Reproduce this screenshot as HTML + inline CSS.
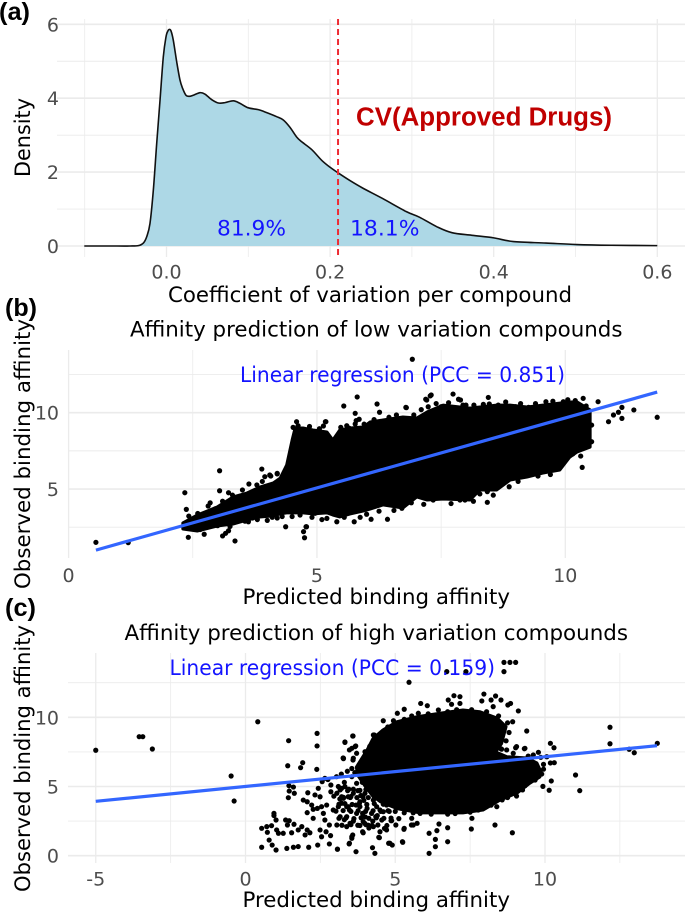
<!DOCTYPE html>
<html lang="en">
<head>
<meta charset="utf-8">
<title>Coefficient of variation and affinity prediction</title>
<style>
html,body{margin:0;padding:0;background:#fff;width:685px;height:913px;overflow:hidden}
svg{display:block}
text{font-family:"DejaVu Sans","Liberation Sans",sans-serif}
.panel-tag{font-family:"Liberation Sans",sans-serif;font-weight:bold;font-size:25px;fill:#000}
.axis-title{font-size:21.5px;fill:#000}
.tick{font-size:19px;fill:#4d4d4d}
.note{font-size:21.5px;fill:#1414ff}
</style>
</head>
<body>
<svg id="figure" xmlns="http://www.w3.org/2000/svg" width="685" height="913" viewBox="0 0 685 913">
  <g id="panel-a"></g>
  <g id="panel-b"></g>
  <g id="panel-c"></g>
  <g>
    <text class="panel-tag" x="-1" y="20" textLength="31" lengthAdjust="spacingAndGlyphs">(a)</text>
    <text class="panel-tag" x="5" y="316" textLength="32" lengthAdjust="spacingAndGlyphs">(b)</text>
    <text class="panel-tag" x="5" y="616" textLength="31" lengthAdjust="spacingAndGlyphs">(c)</text>

    <text class="axis-title" transform="translate(30 177) rotate(-90)" textLength="79" lengthAdjust="spacingAndGlyphs">Density</text>
    <text class="axis-title" x="168" y="302" textLength="404" lengthAdjust="spacingAndGlyphs">Coefficient of variation per compound</text>
    <text x="356" y="125.5" textLength="256" lengthAdjust="spacingAndGlyphs" style="font-family:'Liberation Sans',sans-serif;font-weight:bold;font-size:25.5px;fill:#c00000">CV(Approved Drugs)</text>
    <text class="note" x="217" y="235.5" textLength="69" lengthAdjust="spacingAndGlyphs">81.9%</text>
    <text class="note" x="350" y="235.5" textLength="69.5" lengthAdjust="spacingAndGlyphs">18.1%</text>

    <text class="axis-title" x="130" y="336.5" textLength="492.5" lengthAdjust="spacingAndGlyphs">Affinity prediction of low variation compounds</text>
    <text class="note" x="240" y="382" textLength="325" lengthAdjust="spacingAndGlyphs">Linear regression (PCC = 0.851)</text>
    <text class="axis-title" x="242.5" y="604" textLength="267.5" lengthAdjust="spacingAndGlyphs">Predicted binding affinity</text>
    <text class="axis-title" transform="translate(30 589) rotate(-90)" textLength="270" lengthAdjust="spacingAndGlyphs">Observed binding affinity</text>

    <text class="axis-title" x="124.5" y="640" textLength="503.5" lengthAdjust="spacingAndGlyphs">Affinity prediction of high variation compounds</text>
    <text class="note" x="169.5" y="675" textLength="325.5" lengthAdjust="spacingAndGlyphs">Linear regression (PCC = 0.159)</text>
    <text class="axis-title" x="242.5" y="907" textLength="267.5" lengthAdjust="spacingAndGlyphs">Predicted binding affinity</text>
    <text class="axis-title" transform="translate(30 892) rotate(-90)" textLength="267" lengthAdjust="spacingAndGlyphs">Observed binding affinity</text>
  </g>
</svg>
<script>
const densityX = [-0.1005,-0.06,-0.0446,-0.0345,-0.0283,-0.0242,-0.0202,-0.0161,-0.012,-0.0079,-0.0039,-0.0006,0.0015,0.0034,0.0055,0.0083,0.0125,0.0165,0.0198,0.0238,0.0279,0.0328,0.041,0.0471,0.0553,0.0634,0.0715,0.0817,0.0899,0.1,0.1122,0.1225,0.1347,0.1428,0.151,0.1591,0.1653,0.1775,0.1897,0.2,0.2097,0.2243,0.2397,0.2638,0.2932,0.3092,0.3306,0.349,0.3733,0.4,0.424,0.464,0.5015,0.544,0.6];
const densityY = [0,0,0,0.01,0.08,0.25,0.61,1.51,2.77,3.95,5.12,5.66,5.81,5.86,5.82,5.57,4.98,4.49,4.26,4.08,4.05,4.08,4.15,4.11,3.96,3.87,3.88,3.93,3.86,3.74,3.69,3.61,3.5,3.41,3.21,2.95,2.82,2.61,2.32,2.13,1.98,1.77,1.57,1.29,0.93,0.78,0.52,0.36,0.29,0.22,0.12,0.08,0.04,0.02,0.01];
const densityMajorY = [0,2,4,6];
const densityMinorY = [1,3,5];
const densityMajorX = [0,0.2,0.4,0.6];
const densityMinorX = [-0.1,0.1,0.3,0.5];
const densityTickLabelsX = ["0.0","0.2","0.4","0.6"];
const densityTickLabelsY = ["0","2","4","6"];
const approvedDrugsCV = 0.2097;

const lowLineX = [0.55,11.85];
const lowLineY = [1.0,11.35];
const lowBlobX = [2.30,2.59,2.99,3.31,3.59,3.85,4.12,4.26,4.39,4.50,4.56,4.72,4.92,5.20,5.32,5.46,5.67,5.93,6.07,6.33,6.73,7.01,7.22,7.54,8.08,8.28,8.62,8.89,9.23,9.55,9.89,10.09,10.24,10.5];
const lowBlobUpper = [2.78,3.30,3.82,4.48,4.74,5.13,5.40,5.72,6.57,8.21,9.0,9.0,8.87,8.74,8.21,8.87,9.0,9.06,9.39,9.52,9.72,9.65,10.05,10.5,10.3,10.37,10.5,10.5,10.37,10.5,10.63,10.7,10.7,10.18];
const lowBlobLower = [2.38,2.25,2.58,2.71,2.97,3.17,3.24,3.37,3.44,3.44,3.44,3.44,3.37,3.44,3.30,3.17,3.37,3.56,3.69,3.96,3.76,4.48,4.28,4.35,4.28,4.94,4.94,5.59,5.79,6.05,6.25,7.09,7.43,7.75];
const lowPoints = [
[0.55,1.51],[1.20,1.49],[2.34,4.76],[2.37,3.67],[2.42,3.23],[2.41,1.84],[3.04,6.2],[3.04,4.89],[3.22,4.76],[2.81,3.89],[3.35,1.6],[3.10,1.93],[3.22,2.27],[3.16,2.1],[2.73,2.04],[3.89,6.31],[4.07,5.85],[3.95,5.81],[4.2,5.99],[3.63,5.33],[3.79,5.27],[3.5,4.94],[4.37,2.53],[3.62,2.86],
[6.92,13.5],[5.81,11.03],[5.54,10.44],[5.77,9.96],[5.85,9.57],[5.77,9.26],[6.21,10.57],[6.26,10.03],[6.79,10.35],[7.3,11.16],[7.21,10.83],[7.74,11.22],[7.89,10.83],[7.94,10.5],[7.24,10.39],[4.59,9.41],[4.52,9.04],[5.18,9.41],[5.48,9.04],[4.79,2.53],[4.75,1.81],[4.78,2.53],[4.73,2.21],[6.42,3.02],[5.75,2.86],[5.87,3.15],[6.09,3.02],[5.4,2.86],[5.2,3.08],[4.66,3.3],[4.96,3.41],[4.2,6.03],[4.05,5.92],[6.71,3.74],[7.98,4.28],[7.34,4.28],[7.04,4.61],
[8.45,11.0],[11.85,9.7],[11.38,10.18],[11.14,10.35],[11.14,9.63],[10.87,9.41],[10.66,10.72],[10.36,10.94],[10.2,10.79],[10.42,10.44],[10.53,9.19],[10.33,9.52],[10.97,9.85],[11.07,10.03],[10.42,8.39],[10.53,8.1],[10.3,7.67],[10.31,7.16],[10.34,6.42],[9.93,7.12],[9.83,7.45],[9.56,6.14],[9.36,6.2],[9.26,5.99],[9.05,5.74],[8.87,5.15],[8.63,5.27],[8.43,4.83],[8.28,4.68],[8.43,4.13],[8.02,4.39],[7.88,4.28],[9.83,8.0],[10.03,8.43],[10.23,8.6],[10.16,8.0],
[7.28,11.1],[7.85,10.88],[7.19,10.88],[6.8,10.33],[8.16,10.5],[8.47,10.57],[7.5,10.39],[9.61,10.72],[9.96,10.72],[9.0,10.39],[8.65,10.5],[9.26,10.35],[5.79,9.48],[5.17,9.41],[5.13,9.13],[5.65,8.98],
[2.6,3.4],[2.9,3.2],[3.45,3.9],[3.7,4.4],[3.0,2.6],[2.5,2.7],[3.55,2.9],[3.8,3.0],[4.0,2.95],[4.2,3.1],[2.85,4.1],[3.3,4.6],[3.9,5.5],[2.32,2.5],[2.65,2.35],
[3.1,4.2],[3.42,4.35],[2.95,3.7],[3.25,2.55],[3.7,3.1],[4.1,3.15],[4.3,3.2],[4.5,3.2],[4.9,3.15],[5.1,3.0],[5.55,3.15],[6.0,3.35],[6.25,3.55],[6.55,3.6],[6.9,4.1],[7.15,4.0],[7.7,4.05],[8.15,4.2],[8.55,4.6],[8.75,5.4],[9.05,5.5],[9.45,5.85],[9.7,5.95],[10.0,6.9],[10.15,7.3],
[4.62,9.15],[4.85,9.1],[5.05,8.95],[5.6,9.15],[5.95,9.25],[6.15,9.55],[6.45,9.7],[6.6,9.85],[6.95,9.85],[7.1,10.2],[7.4,10.6],[7.65,10.65],[8.0,10.5],[8.35,10.55],[8.8,10.7],[9.1,10.6],[9.4,10.6],[9.75,10.75],[10.05,10.85]
];

const highLineX = [-5.0,13.74];
const highLineY = [3.93,7.95];
const highBlobX = [3.7,4.06,4.26,4.59,5.06,5.73,6.49,7.26,7.83,8.4,8.7,8.55,8.35,8.73,9.4,9.73,9.87,9.83,9.5,9.07,8.5,7.93,7.26,6.49,5.83,5.06,4.5,4.25,4.0,3.75];
const highBlobY = [6.4,7.64,8.48,9.09,9.68,10.04,10.29,10.53,10.4,9.95,9.32,8.1,7.5,7.15,7.06,6.7,6.05,5.69,5.25,4.53,4.02,3.3,3.09,3.09,3.09,3.4,3.9,4.3,5.0,5.8];
const highPoints = [
[-5.0,7.62],[-3.55,8.6],[-3.43,8.6],[-3.11,7.71],[0.41,9.68],[-0.48,5.76],[-0.38,3.95],[1.44,8.31],[2.39,8.84],[2.39,7.93],[3.32,8.22],[3.27,7.01],[1.41,6.5],[1.91,6.72],[1.84,6.36],[2.38,6.24],[1.45,5.06],[1.6,4.96],[1.46,4.67],[1.63,4.51],[1.43,4.19],[2.08,4.55],[1.93,4.02],[2.06,3.9],[2.21,3.66],[2.06,3.11],[2.26,3.35],[0.95,3.06],[0.95,2.9],[1.02,2.58],[1.34,2.58],[1.46,2.53],[1.4,2.22],[1.62,2.27],[0.54,1.98],[0.71,2.1],[0.87,2.17],[0.73,1.69],[1.04,1.86],[1.1,1.62],[1.26,1.62],[1.54,1.66],[1.76,1.86],[1.88,2.1],[1.99,1.5],[2.15,1.66],[2.06,1.86],[2.49,1.86],[2.54,1.37],[2.69,1.73],[2.84,1.45],[0.79,1.13],[0.89,0.77],[1.02,0.41],[0.54,0.61],[1.38,0.53],[1.6,0.61],[1.76,0.66],[2.11,0.61],[2.41,0.77],[2.8,0.85],[3.07,0.46],[3.47,0.9],
[2.43,4.87],[2.56,5.35],[2.65,5.59],[2.85,5.11],[2.85,4.62],[3.04,5.71],[2.32,4.39],[2.49,4.26],[2.71,3.66],[2.54,3.54],[2.4,3.42],[2.93,3.3],[3.1,3.54],[3.16,2.82],[3.38,2.82],[2.65,2.58],[2.26,2.7],[2.8,2.22],[3.05,2.22],[3.38,2.1],[3.05,4.51],[3.21,4.87],[3.27,4.15],[3.21,3.79],[3.43,3.54],[2.6,3.06],
[3.59,8.65],[3.68,7.93],[3.47,7.64],[3.59,6.91],[3.26,7.06],[3.79,6.55],[4.3,8.72],[4.12,2.0],[4.64,1.97],[4.86,2.53],[4.35,2.82],[3.91,3.06],[3.47,3.3],[3.69,3.66],[4.06,3.42],[4.49,3.3],[4.71,3.66],[3.98,2.34],[4.27,2.1],[4.49,1.73],[3.91,1.73],[3.55,1.37],[4.45,1.33],[4.78,0.9],[4.9,0.77],[5.25,0.97],[5.29,1.91],[5.54,2.22],[5.73,2.34],[6.13,1.62],[6.13,0.17],[6.34,0.65],[6.34,1.18],[6.39,1.81],[6.46,2.29],[6.75,2.02],[6.75,1.01],[7.54,1.93],[7.56,2.7],[8.33,2.22],[8.91,1.66],[4.32,0.17],[4.24,0.58],[3.69,0.29],[3.07,0.48],
[5.46,12.53],[6.72,13.3],[7.36,13.3],[8.63,13.3],[8.63,13.97],[8.83,13.97],[9.02,13.97],[6.96,11.56],[7.16,11.49],[6.77,11.25],[6.88,10.94],[7.16,11.0],[7.96,11.68],[8.35,11.54],[8.53,11.25],[8.2,11.25],[7.89,11.18],[8.85,11.0],[8.27,10.77],[8.76,10.89],[9.11,10.46],[8.92,9.68],[9.39,9.01],[9.02,7.8],[9.33,7.76],[8.72,7.64],[8.5,7.76],
[5.85,11.0],[6.07,10.84],[5.3,10.58],[5.07,10.29],[6.44,10.53],[5.77,10.29],[4.6,9.75],[4.94,9.75],[4.27,8.72],[3.58,8.65],[3.32,8.19],[3.66,7.88],[3.71,7.4],[3.55,7.76],[3.27,7.04],[3.6,7.04],[3.99,7.51],[3.77,6.43],
[7.77,3.3],[8.39,3.54],[5.55,2.7],[5.6,2.22],[5.3,1.98],[4.47,1.3],[5.24,1.01],[4.82,0.9],[3.46,0.85],[3.55,1.26],[3.58,1.5],[3.93,1.66],[4.71,1.86],[4.88,2.53],[5.83,3.06],[3.93,2.46],[3.49,2.34],[3.71,3.06],[3.38,3.54],[3.82,3.54],[4.21,3.06],[4.55,2.58],[4.6,3.18],[3.6,4.51],[3.32,4.99],[3.43,4.26],[3.21,4.26],[3.99,4.51],[4.27,4.02],[3.71,5.23],[3.55,5.71],[4.05,5.35],[3.82,3.9],[4.38,3.54],
[13.75,8.12],[12.17,9.28],[12.17,8.09],[12.81,7.69],[12.98,7.44],[10.18,8.12],[10.3,7.8],[10.18,6.7],[10.31,6.72],[11.02,5.83],[11.16,4.7],[10.21,5.4],[10.14,4.73],[9.93,5.01],[9.31,7.73],[9.05,7.88],[8.94,7.4],[9.78,7.47],[9.61,7.28],[9.44,7.2],[10.06,7.15],[9.86,7.11],[9.89,5.9],[9.72,6.07],[9.67,5.47],[9.5,5.35],[9.33,5.05],[9.05,4.31],[8.57,4.03],
[3.3,5.3],[3.45,4.8],[3.1,5.0],[2.95,4.3],[3.15,4.1],[3.5,4.2],[3.75,4.7],[3.95,4.0],[4.1,4.8],[3.85,4.35],[3.4,6.1],[3.65,6.0],[3.55,6.3],[3.2,5.9],[2.75,5.5],[4.0,2.8],[4.25,2.5],[4.4,2.9],[3.6,2.5],[3.3,2.6],[3.75,2.2],[4.1,2.2],
[3.16,4.75],[3.41,4.7],[3.6,4.8],[3.82,4.72],[4.02,4.78],[4.2,4.7],[3.27,4.22],[3.52,4.28],[3.72,4.2],[3.92,4.26],[4.1,4.2],[4.3,4.25],[3.12,3.72],[3.32,3.76],[3.56,3.7],[3.8,3.76],[4.05,3.7],[4.3,3.76],[4.6,3.72],[3.02,3.22],[3.26,3.26],[3.52,3.2],[3.76,3.25],[4.01,3.2],[4.26,3.25],[4.52,3.2],[4.76,3.25],[5.0,3.2],[3.12,2.7],[3.36,2.74],[3.62,2.68],[3.86,2.74],[4.12,2.7],[4.37,2.74],[4.62,2.7],[4.86,2.72],[5.12,2.68],[3.22,2.2],[3.52,2.24],[3.82,2.18],[4.02,2.24],[4.22,2.18],[4.42,2.22],[4.72,2.18],[5.02,2.22],
[3.9,5.3],[4.1,5.6],[3.85,6.1],[3.95,6.8],[4.15,7.9],[4.4,8.5],[4.75,9.3],[5.3,9.85],[5.55,10.1],[6.1,10.25],[6.75,10.4],[7.05,10.55],[7.55,10.55],[8.05,10.4],[8.45,10.1],[8.75,9.6],[8.8,8.9],[8.7,8.3],[8.55,7.7],[4.8,3.2],[5.3,3.1],[5.6,3.1],[6.2,3.0],[6.75,3.0],[7.0,3.05],[7.5,3.15],[8.2,3.65],[8.75,4.2],[9.25,4.75],[9.65,5.55],[9.95,6.25],[9.95,6.6]
];

const lowMajorX = [0,5,10];
const lowMinorX = [2.5,7.5];
const lowMajorY = [5,10];
const lowMinorY = [2.5,7.5,12.5];
const highMajorX = [-5,0,5,10];
const highMinorX = [-2.5,2.5,7.5,12.5];
const highMajorY = [0,5,10];
const highMinorY = [2.5,7.5,12.5];

const SVG_NS = "http://www.w3.org/2000/svg";
function make(tag, parent, attrs) {
  const node = document.createElementNS(SVG_NS, tag);
  for (const key in attrs) node.setAttribute(key, attrs[key]);
  parent.appendChild(node);
  return node;
}
const axisA = { x: v => 166.5 + 818 * v, y: v => 246 - 36.95 * v, left: 57, right: 685, top: 19, bottom: 257 };
const axisB = { x: v => 68.6 + 49.67 * v, y: v => 565.4 - 15.27 * v, left: 68.6, right: 685, top: 350, bottom: 558 };
const axisC = { x: v => 245.5 + 29.95 * v, y: v => 855.7 - 13.84 * v, left: 68, right: 685, top: 653, bottom: 863 };

function drawGrid(panel, axis, majorX, minorX, majorY, minorY) {
  const grid = make("g", panel, { stroke: "#ebebeb", fill: "none" });
  
  
  minorX.forEach(v => {
    const line = make("line", grid, { x1: axis.x(v), x2: axis.x(v), y1: axis.top, y2: axis.bottom, "stroke-width": 0.8 });
    
    
  });
  majorX.forEach(v => {
    const line = make("line", grid, { x1: axis.x(v), x2: axis.x(v), y1: axis.top, y2: axis.bottom, "stroke-width": 1.3 });
    
    
  });
  minorY.forEach(v => {
    const line = make("line", grid, { x1: axis.left, x2: axis.right, y1: axis.y(v), y2: axis.y(v), "stroke-width": 0.9 });
    
    
  });
  majorY.forEach(v => {
    const line = make("line", grid, { x1: axis.left, x2: axis.right, y1: axis.y(v), y2: axis.y(v), "stroke-width": 1.6 });
    
    
  });
}
function drawTicks(panel, axis, xValues, xLabels, xBaseline, yValues, yLabels) {
  xValues.forEach((v, i) => {
    const t = make("text", panel, { class: "tick", x: axis.x(v), y: xBaseline, "text-anchor": "middle" });
    
    
    t.textContent = xLabels[i];
  });
  yValues.forEach((v, i) => {
    const t = make("text", panel, { class: "tick", x: 59, y: axis.y(v) + 7, "text-anchor": "end" });
    
    
    t.textContent = yLabels[i];
  });
}
function smoothPath(pts) {
  let d = "M" + pts[0][0] + " " + pts[0][1];
  for (let i = 0; i < pts.length - 1; i++) {
    const p0 = pts[Math.max(i - 1, 0)], p1 = pts[i], p2 = pts[i + 1], p3 = pts[Math.min(i + 2, pts.length - 1)];
    d += "C" + (p1[0] + (p2[0] - p0[0]) / 6) + " " + (p1[1] + (p2[1] - p0[1]) / 6) + " " +
         (p2[0] - (p3[0] - p1[0]) / 6) + " " + (p2[1] - (p3[1] - p1[1]) / 6) + " " + p2[0] + " " + p2[1];
  }
  return d;
}
function drawPoints(panel, axis, points) {
  const group = make("g", panel, { fill: "#000" });
  
  
  points.forEach(p => {
    const dot = make("circle", group, { cx: axis.x(p[0]), cy: axis.y(p[1]), r: 2.6 });
    
    
  });
}
function drawRegression(panel, axis, xs, ys) {
  const line = make("line", panel, { x1: axis.x(xs[0]), y1: axis.y(ys[0]), x2: axis.x(xs[1]), y2: axis.y(ys[1]), stroke: "#3366ff", "stroke-width": 3.2 });
  
  
}

/* panel a */
const panelA = document.getElementById("panel-a");
drawGrid(panelA, axisA, densityMajorX, densityMinorX, densityMajorY, densityMinorY);
const curvePts = densityX.map((v, i) => [axisA.x(v), axisA.y(densityY[i])]);
const curveD = smoothPath(curvePts);
const area = make("path", panelA, { d: curveD + "L" + axisA.x(densityX[densityX.length - 1]) + " " + axisA.y(0) + "L" + axisA.x(densityX[0]) + " " + axisA.y(0) + "Z", fill: "#add8e6", stroke: "none" });


const curve = make("path", panelA, { d: curveD, fill: "none", stroke: "#111", "stroke-width": 1.6 });


const threshold = make("line", panelA, { x1: axisA.x(approvedDrugsCV), x2: axisA.x(approvedDrugsCV), y1: axisA.top, y2: axisA.bottom, stroke: "#ee2b33", "stroke-width": 2, "stroke-dasharray": "6 4" });


drawTicks(panelA, axisA, densityMajorX, densityTickLabelsX, 278.5, densityMajorY, densityTickLabelsY);

/* panel b */
const panelB = document.getElementById("panel-b");
drawGrid(panelB, axisB, lowMajorX, lowMinorX, lowMajorY, lowMinorY);
const lowOutline = lowBlobX.map((v, i) => axisB.x(v) + "," + axisB.y(lowBlobUpper[i]))
  .concat(lowBlobX.map((v, i) => axisB.x(v) + "," + axisB.y(lowBlobLower[i])).reverse()).join(" ");
const lowBlob = make("polygon", panelB, { points: lowOutline, fill: "#000", stroke: "#000", "stroke-width": 3, "stroke-linejoin": "round" });


drawPoints(panelB, axisB, lowPoints);
drawRegression(panelB, axisB, lowLineX, lowLineY);
drawTicks(panelB, axisB, lowMajorX, ["0","5","10"], 582, lowMajorY, ["5","10"]);

/* panel c */
const panelC = document.getElementById("panel-c");
drawGrid(panelC, axisC, highMajorX, highMinorX, highMajorY, highMinorY);
const highOutline = highBlobX.map((v, i) => axisC.x(v) + "," + axisC.y(highBlobY[i])).join(" ");
const highBlob = make("polygon", panelC, { points: highOutline, fill: "#000", stroke: "#000", "stroke-width": 3, "stroke-linejoin": "round" });


drawPoints(panelC, axisC, highPoints);
drawRegression(panelC, axisC, highLineX, highLineY);
drawTicks(panelC, axisC, highMajorX, ["-5","0","5","10"], 885.5, highMajorY, ["0","5","10"]);
</script>
</body>
</html>
